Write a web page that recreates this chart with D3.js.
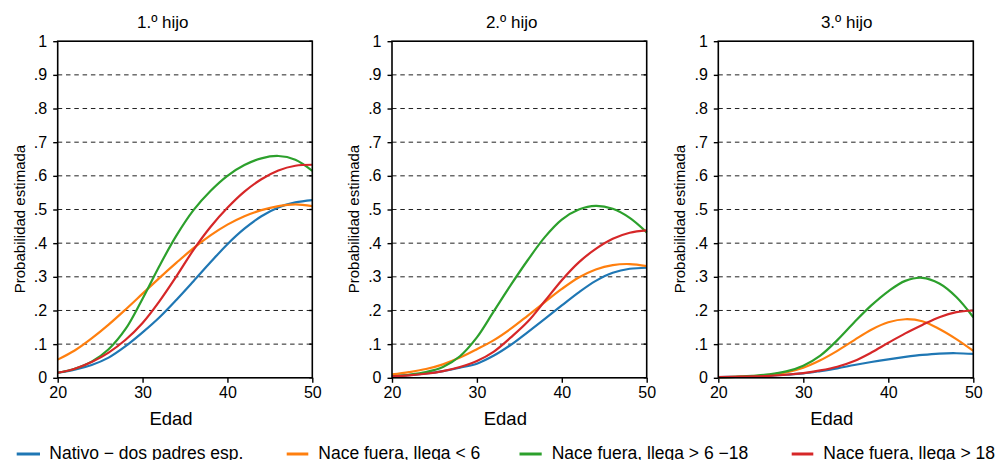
<!DOCTYPE html>
<html>
<head>
<meta charset="utf-8">
<script src="https://cdn.jsdelivr.net/npm/d3@7"></script>
<style>
  html, body { margin: 0; padding: 0; background: #fff; }
  svg { display: block; font-family: "Liberation Sans", Arial, Helvetica, sans-serif; }
</style>
</head>
<body>
<svg id="chart" width="998" height="460"></svg>
<script>
// Edad (años) en la que se evalúa cada curva
const ages = [20, 22, 24, 26, 28, 30, 32, 34, 36, 38, 40, 42, 44, 46, 48, 50];

// Probabilidad estimada — 1.º hijo
const hijo1Nativo = [0.015, 0.024, 0.038, 0.060, 0.094, 0.135, 0.180, 0.232, 0.287, 0.343, 0.397, 0.443, 0.480, 0.506, 0.521, 0.528];
const hijo1Menor6 = [0.054, 0.081, 0.117, 0.158, 0.203, 0.250, 0.297, 0.342, 0.385, 0.423, 0.455, 0.480, 0.498, 0.510, 0.515, 0.510];
const hijo1Entre6y18 = [0.015, 0.027, 0.048, 0.085, 0.145, 0.235, 0.333, 0.423, 0.498, 0.555, 0.600, 0.632, 0.652, 0.659, 0.648, 0.615];
const hijo1Mayor18 = [0.015, 0.027, 0.047, 0.075, 0.113, 0.163, 0.228, 0.302, 0.380, 0.448, 0.505, 0.553, 0.590, 0.616, 0.630, 0.633];

// Probabilidad estimada — 2.º hijo
const hijo2Nativo = [0.005, 0.008, 0.013, 0.020, 0.030, 0.042, 0.066, 0.098, 0.136, 0.175, 0.215, 0.254, 0.288, 0.312, 0.324, 0.327];
const hijo2Menor6 = [0.010, 0.017, 0.026, 0.040, 0.060, 0.085, 0.112, 0.146, 0.185, 0.225, 0.264, 0.298, 0.322, 0.335, 0.338, 0.332];
const hijo2Entre6y18 = [0.004, 0.009, 0.017, 0.032, 0.064, 0.120, 0.198, 0.276, 0.350, 0.418, 0.470, 0.500, 0.511, 0.502, 0.475, 0.432];
const hijo2Mayor18 = [0.004, 0.007, 0.012, 0.020, 0.032, 0.050, 0.078, 0.120, 0.167, 0.228, 0.290, 0.343, 0.383, 0.413, 0.431, 0.438];

// Probabilidad estimada — 3.º hijo
const hijo3Nativo = [0.002, 0.003, 0.004, 0.006, 0.009, 0.013, 0.020, 0.028, 0.038, 0.047, 0.055, 0.062, 0.068, 0.072, 0.073, 0.071];
const hijo3Menor6 = [0.002, 0.003, 0.005, 0.009, 0.016, 0.030, 0.052, 0.080, 0.112, 0.143, 0.165, 0.174, 0.168, 0.145, 0.115, 0.080];
const hijo3Entre6y18 = [0.002, 0.003, 0.006, 0.010, 0.019, 0.036, 0.066, 0.112, 0.165, 0.215, 0.257, 0.288, 0.297, 0.280, 0.240, 0.180];
const hijo3Mayor18 = [0.002, 0.003, 0.004, 0.006, 0.009, 0.014, 0.022, 0.033, 0.050, 0.075, 0.104, 0.132, 0.157, 0.180, 0.195, 0.200];

// Textos
const panelTitles = ["1.º hijo", "2.º hijo", "3.º hijo"];
const seriesNames = ["Nativo − dos padres esp.", "Nace fuera, llega < 6", "Nace fuera, llega > 6 −18", "Nace fuera, llega > 18"];
const xTicks = [20, 30, 40, 50];
const yTicks = [0, 0.1, 0.2, 0.3, 0.4, 0.5, 0.6, 0.7, 0.8, 0.9, 1];
const yGrid = [0.1, 0.2, 0.3, 0.4, 0.5, 0.6, 0.7, 0.8, 0.9];
const xTitle = "Edad";
const yTitle = "Probabilidad estimada";

const panelSeries = [
  [hijo1Nativo, hijo1Menor6, hijo1Entre6y18, hijo1Mayor18],
  [hijo2Nativo, hijo2Menor6, hijo2Entre6y18, hijo2Mayor18],
  [hijo3Nativo, hijo3Menor6, hijo3Entre6y18, hijo3Mayor18]
];

const colors = ["#1f77b4", "#ff7f0e", "#2ca02c", "#d62728"];

// Geometría de cada panel
const panelLayout = [
  { left: 57.7, right: 312.3, titleX: 162.8 },
  { left: 392.0, right: 646.7, titleX: 511.7 },
  { left: 718.3, right: 973.3, titleX: 846.7 }
];
const plotTop = 41.2, plotBottom = 377.8;

const svg = d3.select("#chart");

const yTickFmt = v => v === 0 ? "0" : v === 1 ? "1" : d3.format(".1f")(v).replace(/^0/, "");

panelLayout.forEach((p, i) => {
  const x = d3.scaleLinear().domain([20, 50]).range([p.left, p.right]);
  const y = d3.scaleLinear().domain([0, 1]).range([plotBottom, plotTop]);
  const g = svg.append("g");

  // Líneas de referencia discontinuas
  g.append("g").selectAll("line").data(yGrid).join("line")
    .attr("x1", p.left).attr("x2", p.right)
    .attr("y1", d => y(d)).attr("y2", d => y(d))
    .attr("stroke", "#222").attr("stroke-width", 1)
    .attr("stroke-dasharray", "4.5,3.8");

  // Eje Y
  const yAxis = d3.axisLeft(y).tickValues(yTicks).tickFormat(yTickFmt).tickSize(4.5).tickPadding(6);
  const ya = g.append("g").attr("transform", `translate(${p.left},0)`).call(yAxis);
  ya.select(".domain").remove();
  ya.selectAll(".tick line").attr("stroke", "#000").attr("stroke-width", 1.4);
  ya.selectAll(".tick text").attr("font-size", 16).attr("fill", "#000")
    .attr("font-family", "'Liberation Sans', Arial, sans-serif");

  // Marcas interiores en el lado derecho
  g.append("g").selectAll("line").data(yTicks).join("line")
    .attr("x1", p.right - 3).attr("x2", p.right)
    .attr("y1", d => y(d)).attr("y2", d => y(d))
    .attr("stroke", "#000").attr("stroke-width", 1.4);

  // Eje X
  const xAxis = d3.axisBottom(x).tickValues(xTicks).tickFormat(d3.format("d")).tickSize(5).tickPadding(4);
  const xa = g.append("g").attr("transform", `translate(0,${plotBottom})`).call(xAxis);
  xa.select(".domain").remove();
  xa.selectAll(".tick line").attr("stroke", "#000").attr("stroke-width", 1.4);
  xa.selectAll(".tick text").attr("font-size", 16).attr("fill", "#000")
    .attr("font-family", "'Liberation Sans', Arial, sans-serif");

  // Curvas
  const line = d3.line()
    .x((d, k) => x(ages[k]))
    .y(d => y(d))
    .curve(d3.curveCatmullRom.alpha(0.5));

  g.append("g").selectAll("path").data(panelSeries[i]).join("path")
    .attr("d", d => line(d))
    .attr("fill", "none")
    .attr("stroke", (d, k) => colors[k])
    .attr("stroke-width", 2.2)
    .attr("stroke-linejoin", "round");

  // Marco
  g.append("rect")
    .attr("x", p.left).attr("y", plotTop)
    .attr("width", p.right - p.left).attr("height", plotBottom - plotTop)
    .attr("fill", "none").attr("stroke", "#000").attr("stroke-width", 1.6);

  // Título del panel
  g.append("text")
    .attr("x", p.titleX).attr("y", 28)
    .attr("text-anchor", "middle").attr("font-size", 17).attr("fill", "#000")
    .text(panelTitles[i]);

  // Título eje X
  g.append("text")
    .attr("x", (p.left + p.right) / 2 - 14).attr("y", 425)
    .attr("text-anchor", "middle").attr("font-size", 18.5).attr("fill", "#000")
    .text(xTitle);

  // Título eje Y
  g.append("text")
    .attr("transform", `translate(${p.left - 33},219) rotate(-90)`)
    .attr("text-anchor", "middle").attr("font-size", 15).attr("fill", "#000")
    .text(yTitle);
});

// Leyenda
const legendPos = [
  { x1: 16.7, x2: 40, tx: 49.3 },
  { x1: 286.7, x2: 308.3, tx: 318.3 },
  { x1: 519.5, x2: 541.7, tx: 551.7 },
  { x1: 791.7, x2: 813.3, tx: 823.3 }
];
const lg = svg.append("g");
lg.selectAll("line").data(seriesNames).join("line")
  .attr("x1", (d, k) => legendPos[k].x1).attr("x2", (d, k) => legendPos[k].x2)
  .attr("y1", 454).attr("y2", 454)
  .attr("stroke", (d, k) => colors[k]).attr("stroke-width", 3);
lg.selectAll("text").data(seriesNames).join("text")
  .attr("x", (d, k) => legendPos[k].tx).attr("y", 459)
  .attr("font-size", 17.5).attr("fill", "#000")
  .text(d => d);
</script>
</body>
</html>
